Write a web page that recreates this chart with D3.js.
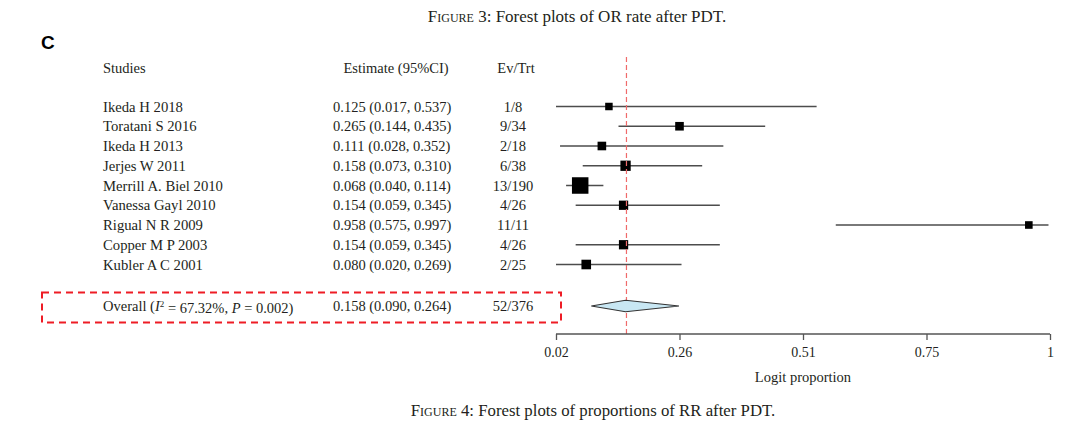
<!DOCTYPE html>
<html>
<head>
<meta charset="utf-8">
<script src="https://cdn.jsdelivr.net/npm/d3@7"></script>
<style>
  body { margin: 0; background: #fff; }
  svg { display: block; }
  .serif { font-family: "Liberation Serif", "DejaVu Serif", serif; fill: #231f20; }
</style>
</head>
<body>
<script>
// study rows
var studies = ["Ikeda H 2018", "Toratani S 2016", "Ikeda H 2013", "Jerjes W 2011",
    "Merrill A. Biel 2010", "Vanessa Gayl 2010", "Rigual N R 2009", "Copper M P 2003", "Kubler A C 2001"];
var estimate = [0.125, 0.265, 0.111, 0.158, 0.068, 0.154, 0.958, 0.154, 0.080];
var ciLow = [0.017, 0.144, 0.028, 0.073, 0.040, 0.059, 0.575, 0.059, 0.020];
var ciHigh = [0.537, 0.435, 0.352, 0.310, 0.114, 0.345, 0.997, 0.345, 0.269];
var evTrt = ["1/8", "9/34", "2/18", "6/38", "13/190", "4/26", "11/11", "4/26", "2/25"];
// weights (%)
var weight = [6.2, 8.2, 8.2, 11.7, 30.1, 9.5, 6.4, 9.5, 10.2];

// pooled result
var overall = {est: 0.158, low: 0.090, high: 0.264, ev: "52/376"};

// axis
var tickValues = [0.02, 0.265, 0.51, 0.755, 1];
var tickLabels = ["0.02", "0.26", "0.51", "0.75", "1"];

var fmt = d3.format(".3f");

var svg = d3.select("body").append("svg")
    .attr("width", 1080)
    .attr("height", 438);

var x = d3.scaleLinear().domain([0.02, 1]).range([556, 1050]);
var y = d3.scalePoint().domain(studies).range([106.5, 264.5]);
var side = d3.scaleSqrt().domain([0, d3.max(weight)]).range([0, 16.5]);

// captions
var cap1 = svg.append("text").attr("class", "serif")
    .attr("x", 577).attr("y", 22)
    .attr("text-anchor", "middle")
    .style("font-size", "17px");
cap1.append("tspan").style("font-variant", "small-caps").text("Figure 3");
cap1.append("tspan").text(": Forest plots of OR rate after PDT.");

var cap2 = svg.append("text").attr("class", "serif")
    .attr("x", 593).attr("y", 416)
    .attr("text-anchor", "middle")
    .style("font-size", "16.8px");
cap2.append("tspan").style("font-variant", "small-caps").text("Figure 4");
cap2.append("tspan").text(": Forest plots of proportions of RR after PDT.");

svg.append("text")
    .attr("x", 41).attr("y", 49)
    .style("font-family", "Liberation Sans, Arial, sans-serif")
    .style("font-size", "19px")
    .style("font-weight", "bold")
    .style("fill", "#000")
    .text("C");

// headers
var hy = 73;
svg.append("text").attr("class", "serif").attr("x", 103).attr("y", hy)
    .style("font-size", "14.5px").text("Studies");
svg.append("text").attr("class", "serif").attr("x", 396).attr("y", hy)
    .attr("text-anchor", "middle").style("font-size", "14.5px").text("Estimate (95%CI)");
svg.append("text").attr("class", "serif").attr("x", 516).attr("y", hy)
    .attr("text-anchor", "middle").style("font-size", "14.5px").text("Ev/Trt");

// table rows
var rows = svg.selectAll("g.row")
    .data(studies)
    .enter().append("g")
    .attr("class", "row")
    .attr("transform", function (d) { return "translate(0," + y(d) + ")"; });

rows.append("text").attr("class", "serif")
    .attr("x", 103).attr("dy", "0.35em")
    .style("font-size", "14.7px")
    .text(function (d) { return d; });

rows.append("text").attr("class", "serif")
    .attr("x", 333).attr("dy", "0.35em")
    .style("font-size", "14.5px")
    .text(function (d, i) {
        return fmt(estimate[i]) + " (" + fmt(ciLow[i]) + ", " + fmt(ciHigh[i]) + ")";
    });

rows.append("text").attr("class", "serif")
    .attr("x", 513).attr("dy", "0.35em")
    .attr("text-anchor", "middle")
    .style("font-size", "14.5px")
    .text(function (d, i) { return evTrt[i]; });

// CI lines, clipped to the axis domain
rows.append("line")
    .attr("x1", function (d, i) { return x(Math.max(ciLow[i], 0.02)); })
    .attr("x2", function (d, i) { return x(Math.min(ciHigh[i], 1)); })
    .attr("stroke", "#4d4d4d")
    .attr("stroke-width", 1.3);

// reference line at pooled estimate
svg.append("line")
    .attr("x1", x(overall.est) + 0.9).attr("x2", x(overall.est) + 0.9)
    .attr("y1", 57).attr("y2", 334)
    .attr("stroke", "#f06a6a")
    .attr("stroke-width", 1.2)
    .attr("stroke-dasharray", "5,3");

rows.append("rect")
    .attr("x", function (d, i) { return x(estimate[i]) - side(weight[i]) / 2; })
    .attr("y", function (d, i) { return -side(weight[i]) / 2; })
    .attr("width", function (d, i) { return side(weight[i]); })
    .attr("height", function (d, i) { return side(weight[i]); })
    .attr("fill", "#000");

// overall row
var oy = 306;
var ov = svg.append("text").attr("class", "serif")
    .attr("x", 103).attr("y", oy).attr("dy", "0.35em")
    .style("font-size", "14.5px");
ov.append("tspan").text("Overall (");
ov.append("tspan").style("font-style", "italic").text("I");
ov.append("tspan").attr("dy", "-0.4em").style("font-size", "9px").text("2");
ov.append("tspan").attr("dy", "0.4em").text(" = 67.32%, ");
ov.append("tspan").style("font-style", "italic").text("P");
ov.append("tspan").text(" = 0.002)");

svg.append("text").attr("class", "serif")
    .attr("x", 333).attr("y", oy).attr("dy", "0.35em")
    .style("font-size", "14.5px")
    .text(fmt(overall.est) + " (" + fmt(overall.low) + ", " + fmt(overall.high) + ")");

svg.append("text").attr("class", "serif")
    .attr("x", 513).attr("y", oy).attr("dy", "0.35em")
    .attr("text-anchor", "middle")
    .style("font-size", "14.5px")
    .text(overall.ev);

svg.append("rect")
    .attr("x", 42).attr("y", 292.5)
    .attr("width", 519).attr("height", 30)
    .attr("fill", "none")
    .attr("stroke", "#ee1c25")
    .attr("stroke-width", 2)
    .attr("stroke-dasharray", "7,5");

var dh = 5.8;
svg.append("path")
    .attr("d", "M" + x(overall.low) + "," + oy +
        "L" + x(overall.est) + "," + (oy - dh) +
        "L" + x(overall.high) + "," + oy +
        "L" + x(overall.est) + "," + (oy + dh) + "Z")
    .attr("fill", "#c8e7f3")
    .attr("stroke", "#333")
    .attr("stroke-width", 1.1);

// x axis
var axis = d3.axisBottom(x)
    .tickValues(tickValues)
    .tickSize(6)
    .tickPadding(5)
    .tickFormat(function (d, i) { return tickLabels[i]; });

var gx = svg.append("g")
    .attr("transform", "translate(0,334)")
    .call(axis);
gx.select(".domain").attr("stroke", "#555").attr("stroke-width", 1.3)
    .attr("d", "M" + x(0.02) + ",0H" + x(1));
gx.selectAll(".tick line").attr("stroke", "#555").attr("stroke-width", 1.3);
gx.selectAll(".tick text")
    .attr("class", "serif")
    .attr("dy", "0.85em")
    .style("font-size", "14px")
    .style("fill", "#231f20");

svg.append("text").attr("class", "serif")
    .attr("x", 803).attr("y", 382)
    .attr("text-anchor", "middle")
    .style("font-size", "14.5px")
    .text("Logit proportion");
</script>
</body>
</html>
